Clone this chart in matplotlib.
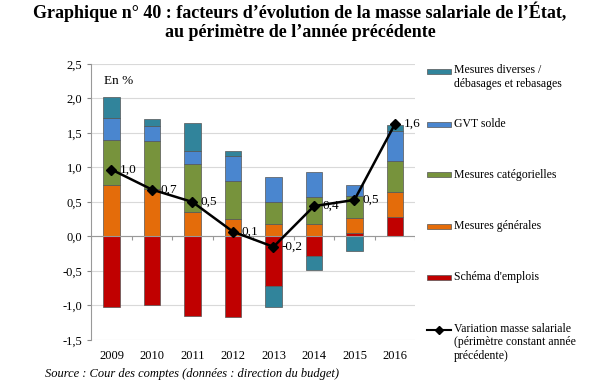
import matplotlib.pyplot as plt
import numpy as np
from matplotlib.patches import Rectangle
from matplotlib.lines import Line2D

years = ["2009", "2010", "2011", "2012", "2013", "2014", "2015", "2016"]
schema_emplois = [-1.02, -0.99, -1.15, -1.16, -0.72, -0.28, 0.05, 0.28]
mesures_generales = [0.74, 0.69, 0.35, 0.25, 0.18, 0.18, 0.22, 0.37]
mesures_categ = [0.66, 0.69, 0.70, 0.55, 0.32, 0.39, 0.31, 0.45]
gvt_solde = [0.31, 0.22, 0.19, 0.36, 0.36, 0.37, 0.17, 0.43]
mesures_diverses = [0.31, 0.10, 0.41, 0.08, -0.30, -0.21, -0.21, 0.08]
variation = [0.97, 0.68, 0.50, 0.07, -0.15, 0.44, 0.53, 1.63]
variation_labels = ["1,0", "0,7", "0,5", "0,1", "-0,2", "0,4", "0,5", "1,6"]

series = [
    ("Schéma d'emplois", schema_emplois, "#C00000"),
    ("Mesures générales", mesures_generales, "#E46C0A"),
    ("Mesures catégorielles", mesures_categ, "#77933C"),
    ("GVT solde", gvt_solde, "#4A86CF"),
    ("Mesures diverses /\ndébasages et rebasages", mesures_diverses, "#31849B"),
]

plt.rcParams['font.family'] = ['Liberation Serif', 'DejaVu Serif']

fig = plt.figure(figsize=(6, 3.82), dpi=100)
ax = fig.add_axes([0.152, 0.110, 0.540, 0.7225])

x = np.arange(len(years))
pos_bottom = np.zeros(len(years))
neg_bottom = np.zeros(len(years))
for name, vals, color in series:
    vals = np.array(vals)
    bottoms = np.where(vals >= 0, pos_bottom, neg_bottom)
    ax.bar(x, vals, 0.4, bottom=bottoms, color=color, edgecolor="#555555",
           linewidth=0.5, zorder=2)
    pos_bottom = pos_bottom + np.where(vals >= 0, vals, 0)
    neg_bottom = neg_bottom + np.where(vals < 0, vals, 0)

ax.plot(x, variation, color="black", lw=1.8, marker="D", ms=5, zorder=4)
for xi, v, lab in zip(x, variation, variation_labels):
    ax.annotate(lab, (xi, v), xytext=(6, 0), textcoords="offset points",
                ha="left", va="center", fontsize=9.5, zorder=5)

ax.set_xlim(-0.5, len(years) - 0.5)
ax.set_ylim(-1.5, 2.5)
ax.set_yticks(np.arange(-1.5, 2.51, 0.5))
ax.set_yticklabels([f"{t:.1f}".replace(".", ",") for t in np.arange(-1.5, 2.51, 0.5)],
                   fontsize=9)
ax.set_xticks(x)
ax.set_xticklabels(years, fontsize=9)
ax.tick_params(axis="x", length=0, pad=7)
ax.tick_params(axis="y", length=3, color="#888888")
ax.grid(axis="y", color="#D9D9D9", lw=0.8, zorder=0)
ax.axhline(0, color="#999999", lw=0.8, zorder=3)
# small category ticks on the zero line
ax.vlines(np.arange(len(years) + 1) - 0.5, -0.05, 0, color="#999999", lw=0.8, zorder=3)
for s in ["top", "right", "bottom"]:
    ax.spines[s].set_visible(False)
ax.spines["left"].set_color("#999999")
ax.text(0.04, 0.94, "En %", transform=ax.transAxes, fontsize=9.5, va="center")

# legend, drawn by hand to keep Excel-like spacing
leg_items = [(lab, col) for lab, _, col in reversed(series)]
leg_y = [71, 124, 175, 226, 277]
for (lab, col), yy in zip(leg_items, leg_y):
    fy = 1 - yy / 382
    fig.patches.append(Rectangle((427 / 600, fy - 2.5 / 382), 24 / 600, 5 / 382,
                                 transform=fig.transFigure, facecolor=col,
                                 edgecolor="#555555", lw=0.5))
    if "\n" in lab:
        fig.text(454 / 600, fy + 7 / 382, lab, fontsize=8.5, va="top", linespacing=1.2)
    else:
        fig.text(454 / 600, fy, lab, fontsize=8.5, va="center")
fy = 1 - 330 / 382
fig.lines.append(Line2D([427 / 600, 439 / 600, 451 / 600], [fy, fy, fy],
                        transform=fig.transFigure, color="black", lw=1.5,
                        marker="D", ms=4, markevery=[1]))
fig.text(454 / 600, fy + 7 / 382,
         "Variation masse salariale\n(périmètre constant année\nprécédente)",
         fontsize=8.5, va="top", linespacing=1.15)

fig.text(0.5, 0.995, "Graphique n° 40 : facteurs d’évolution de la masse salariale de l’État,\n"
         "au périmètre de l’année précédente", ha="center", va="top",
         fontsize=13, fontweight="bold", linespacing=1.1)
fig.text(45 / 600, 1 - 374 / 382, "Source : Cour des comptes (données : direction du budget)",
         fontsize=9, style="italic", va="center")

fig.savefig("out.png", dpi=100)
